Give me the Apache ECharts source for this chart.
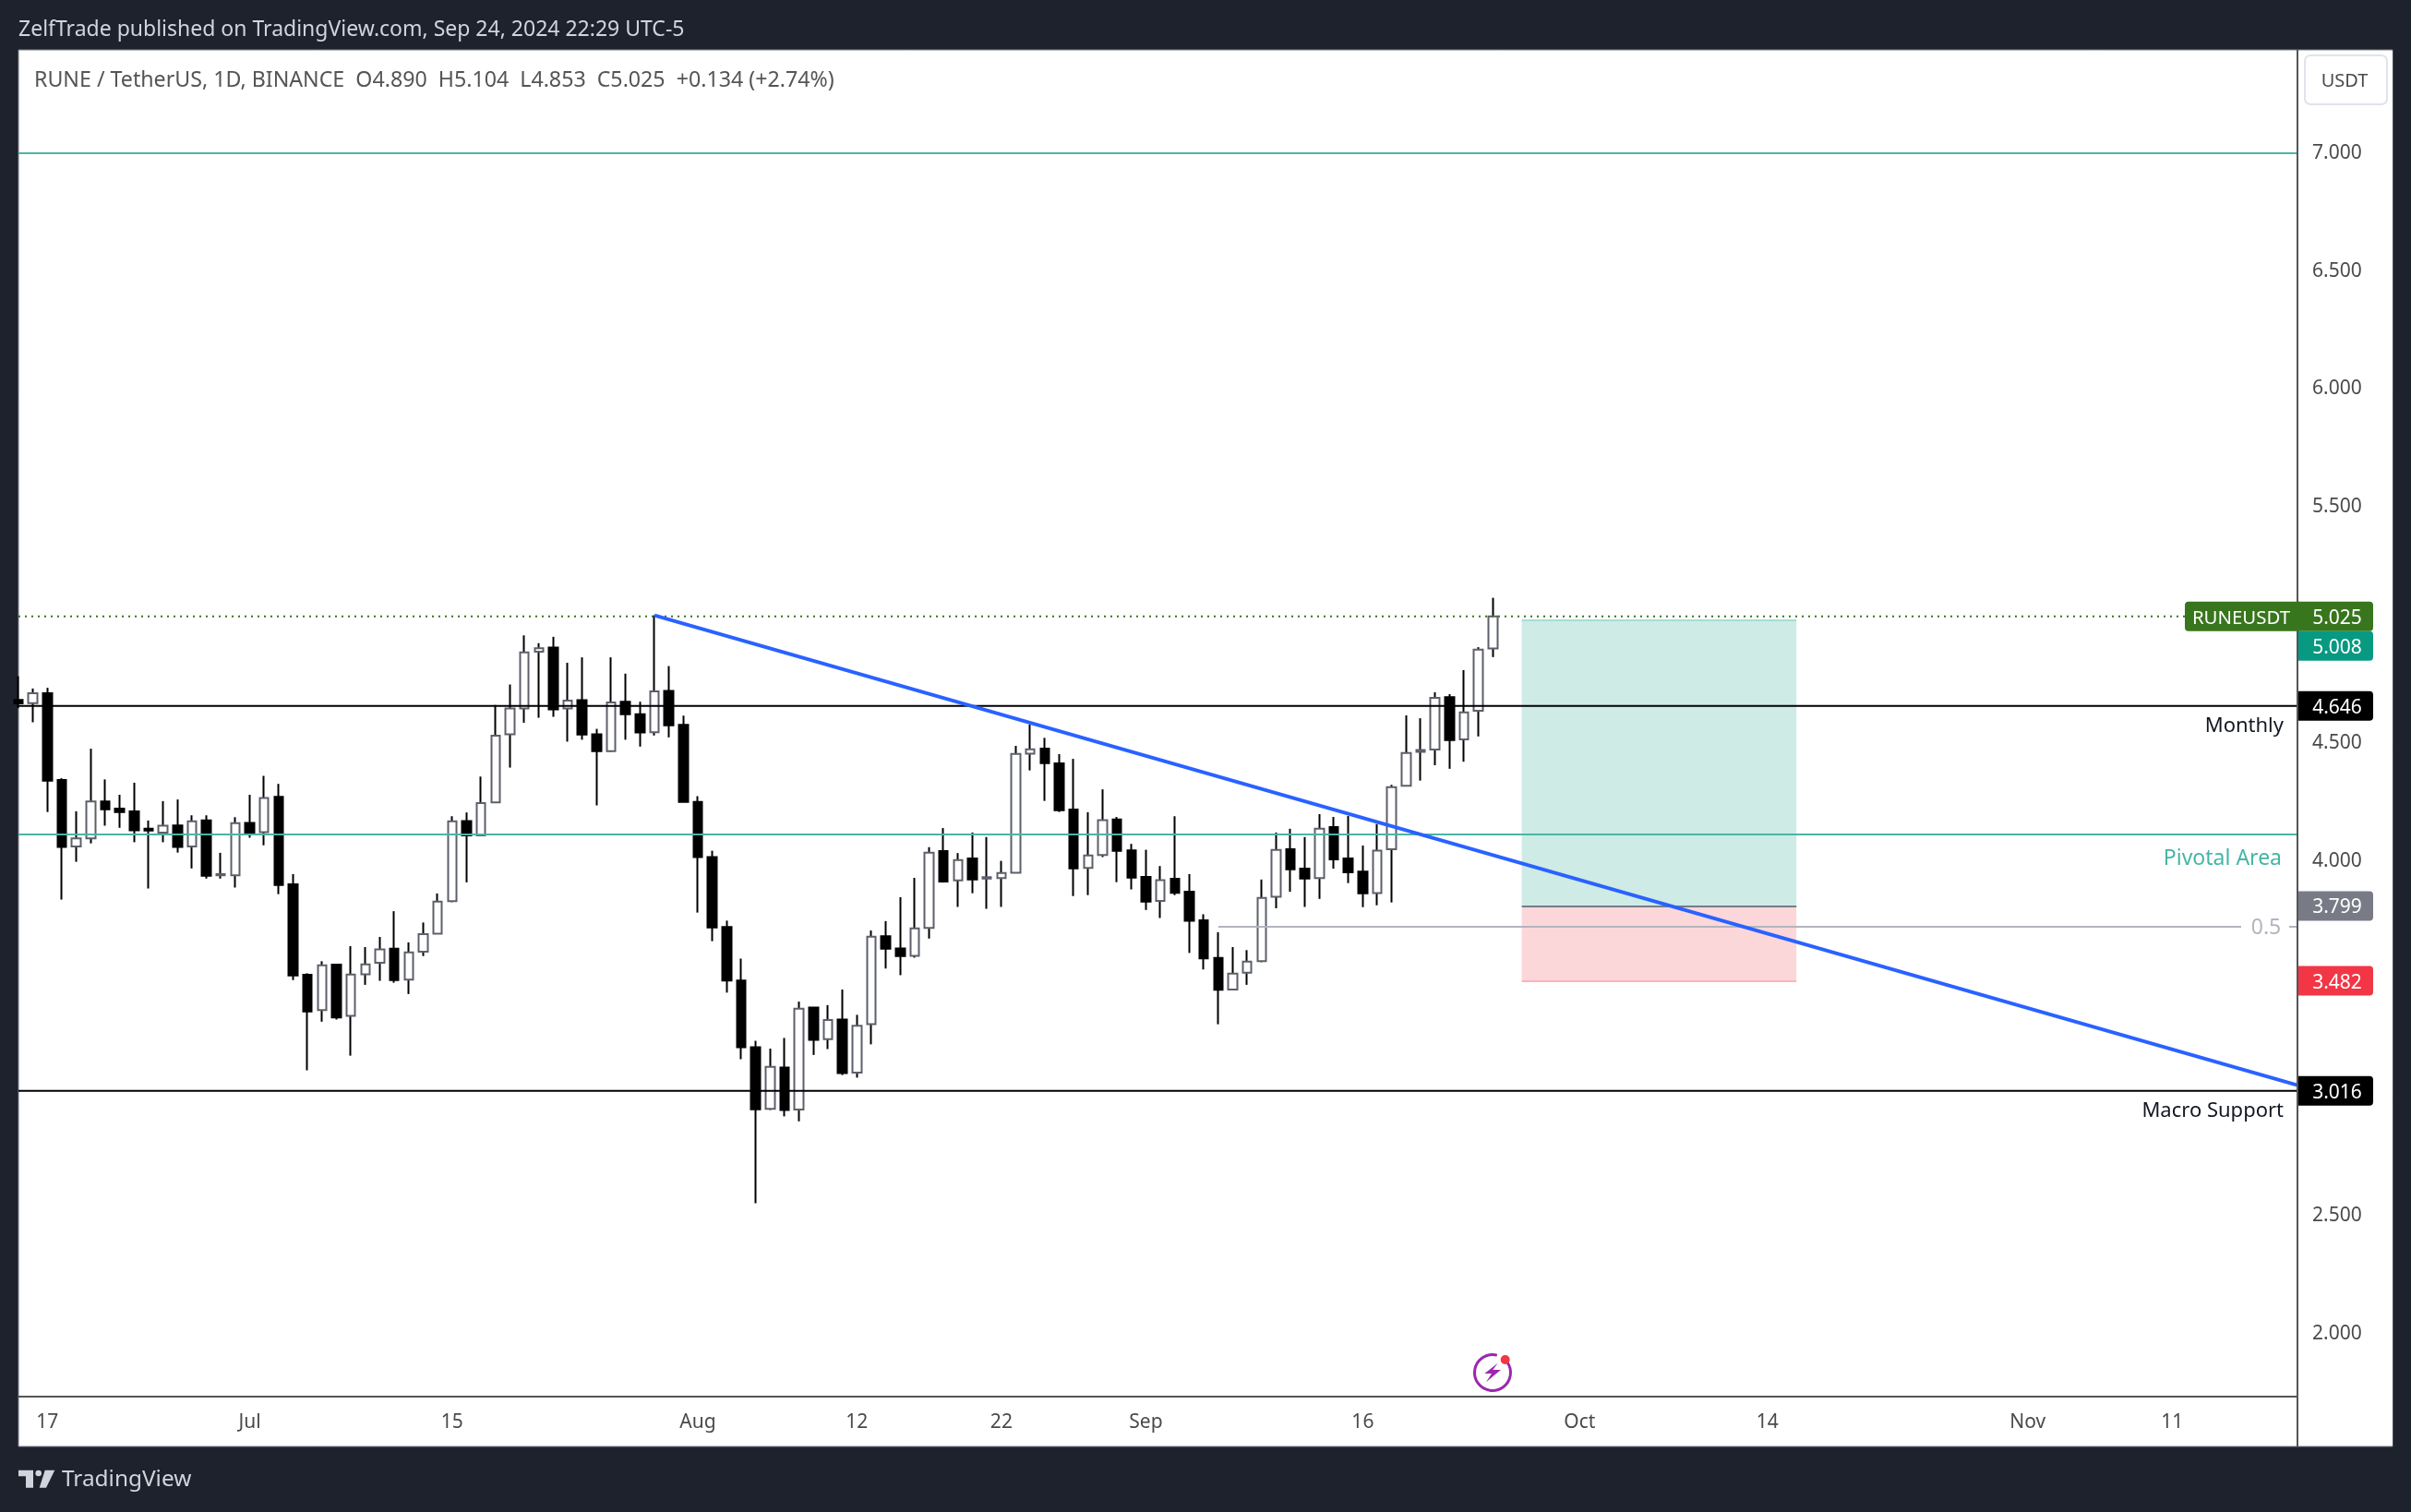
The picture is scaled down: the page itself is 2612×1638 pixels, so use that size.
<!DOCTYPE html>
<html>
<head>
<meta charset="utf-8">
<title>RUNEUSDT</title>
<script src="https://cdn.jsdelivr.net/npm/echarts@6/dist/echarts.min.js"></script>
<style>
  html, body { margin: 0; padding: 0; background: #1e222d; }
  #chart { width: 2612px; height: 1638px; }
</style>
</head>
<body>
<div id="chart"></div>
<script>
// daily candles, 15 Jun -> 25 Sep 2024
const opens = [4.672,4.658,4.700,4.332,4.051,4.085,4.242,4.211,4.200,4.126,4.110,4.140,4.051,4.161,3.929,3.929,
  4.151,4.112,4.261,3.891,3.508,3.358,3.551,3.334,3.510,3.558,3.618,3.487,3.605,3.682,3.819,4.159,4.098,4.238,4.526,4.635,4.876,4.893,4.635,4.671,4.526,4.455,4.664,4.611,4.535,4.710,4.566,
  4.240,4.006,3.710,3.483,3.201,2.940,3.115,2.937,3.369,3.235,3.318,3.093,3.298,3.671,3.619,3.588,3.706,4.031,3.907,4.000,3.915,3.917,3.940,4.444,4.465,4.403,4.207,3.960,4.015,4.165,4.034,
  3.922,3.820,3.914,3.859,3.738,3.579,3.445,3.516,3.565,3.838,4.039,3.957,3.917,4.133,4.000,3.944,3.854,4.039,4.308,4.452,4.461,4.683,4.504,4.626,4.890];
const highs = [4.772,4.720,4.723,4.340,4.200,4.465,4.335,4.270,4.321,4.161,4.243,4.250,4.183,4.183,4.024,4.175,
  4.270,4.350,4.316,3.934,3.514,3.565,3.551,3.629,3.625,3.668,3.777,3.645,3.729,3.852,4.179,4.195,4.347,4.650,4.737,4.945,4.912,4.939,4.829,4.852,4.549,4.852,4.783,4.664,5.030,4.815,4.605,
  4.264,4.033,3.737,3.576,3.228,3.195,3.240,3.394,3.369,3.379,3.445,3.338,3.695,3.735,3.836,3.918,4.048,4.129,4.023,4.110,4.091,3.990,4.477,4.567,4.511,4.442,4.422,4.196,4.293,4.176,4.062,
  4.037,3.968,4.179,3.934,3.764,3.688,3.625,3.612,3.911,4.110,4.126,4.091,4.188,4.176,4.180,4.055,4.146,4.312,4.606,4.594,4.704,4.696,4.798,4.895,5.104];
const lows = [4.637,4.577,4.197,3.826,3.986,4.064,4.139,4.130,4.069,3.873,4.069,4.025,3.958,3.915,3.915,3.877,
  4.088,4.056,3.849,3.485,3.103,3.309,3.318,3.165,3.465,3.482,3.474,3.426,3.587,3.682,3.815,3.899,4.098,4.238,4.385,4.575,4.596,4.600,4.495,4.503,4.225,4.452,4.503,4.474,4.521,4.513,4.240,
  3.771,3.650,3.432,3.150,2.540,2.935,2.908,2.887,3.168,3.193,3.083,3.072,3.213,3.534,3.506,3.580,3.661,3.898,3.795,3.853,3.787,3.795,3.940,4.373,4.244,4.197,3.841,3.845,4.006,3.900,3.869,
  3.782,3.748,3.845,3.600,3.530,3.298,3.445,3.465,3.561,3.789,3.859,3.795,3.829,3.957,3.896,3.794,3.802,3.814,4.308,4.330,4.395,4.380,4.410,4.517,4.853];
const closes = [4.657,4.700,4.330,4.049,4.085,4.242,4.208,4.197,4.119,4.118,4.139,4.049,4.158,3.927,3.934,4.150,
  4.109,4.256,3.888,3.505,3.352,3.548,3.327,3.509,3.552,3.615,3.485,3.602,3.680,3.817,4.158,4.098,4.235,4.520,4.635,4.873,4.891,4.632,4.669,4.525,4.455,4.661,4.611,4.534,4.708,4.564,4.240,
  4.006,3.708,3.483,3.201,2.938,3.118,2.935,3.364,3.232,3.316,3.091,3.292,3.669,3.618,3.587,3.704,4.025,3.902,3.993,3.911,3.921,3.939,4.443,4.462,4.404,4.204,3.958,4.013,4.162,4.032,3.919,
  3.817,3.908,3.855,3.736,3.577,3.444,3.513,3.563,3.833,4.036,3.954,3.915,4.126,3.996,3.942,3.853,4.033,4.302,4.447,4.460,4.680,4.502,4.619,4.885,5.025];

const firstDay = Date.UTC(2024, 5, 15);
const dayCount = 159; // chart runs on into empty future days
const categories = [];
for (let i = 0; i < dayCount; i++) {
  categories.push(new Date(firstDay + i * 86400000).toISOString().slice(0, 10));
}
const lastDay = categories[dayCount - 1];

const xTickDates = ["2024-06-17","2024-07-01","2024-07-15","2024-08-01","2024-08-12","2024-08-22","2024-09-01","2024-09-16","2024-10-01","2024-10-14","2024-11-01","2024-11-11"];
const xTickLabels = ["17","Jul","15","Aug","12","22","Sep","16","Oct","14","Nov","11"];
const yTicks = [2, 2.5, 4, 4.5, 5.5, 6, 6.5, 7];

// drawn levels
const topLevel = 6.987;
const monthly = 4.646;
const pivotal = 4.102;
const macroSupport = 3.016;
const lastClose = 5.025;
const fibLevel = 3.711;
const fibStart = "2024-09-06";
const trendStart = ["2024-07-29", 5.030];
const trendEnd = [lastDay, 3.034];

// long position box
const boxFrom = "2024-09-27";
const boxTo = "2024-10-16";
const targetPrice = 5.008;
const entryPrice = 3.799;
const stopPrice = 3.482;

const tagValues = [5.025, 5.008, 4.646, 3.799, 3.482, 3.016];
const tagColors = ["#38761d", "#089981", "#000000", "#787b86", "#f23645", "#000000"];

const FONT = '"Noto Sans", sans-serif';
const LEFT = 20, TOP = 54, BOTTOM = 1513, AXIS_X = 2489;
const BAND = 15.66;
const GRID_W = (dayCount - 1) * BAND;

function hline(value, color, width, type, from) {
  return {
    type: "line", silent: true, symbol: "none", animation: false, z: 5,
    data: [[from || categories[0], value], [lastDay, value]],
    lineStyle: { color: color, width: width, type: type || "solid" }
  };
}

const chart = echarts.init(document.getElementById("chart"));
chart.setOption({
  animation: false,
  backgroundColor: "#1e222d",
  grid: { left: LEFT, top: TOP, width: GRID_W, height: BOTTOM - TOP },
  xAxis: {
    type: "category",
    boundaryGap: false,
    data: categories,
    axisLine: { lineStyle: { color: "#555555", width: 2 } },
    axisTick: { show: false },
    axisLabel: {
      margin: 18,
      color: "#4a4a4a",
      fontFamily: FONT,
      fontSize: 21,
      hideOverlap: false,
      interval: function (index, value) { return xTickDates.indexOf(value) >= 0; },
      formatter: function (value) { return xTickLabels[xTickDates.indexOf(value)]; }
    },
    splitLine: { show: false }
  },
  yAxis: {
    type: "value",
    position: "right",
    offset: AXIS_X - (LEFT + GRID_W),
    min: 1.7211,
    max: 7.4247,
    z: 60,
    axisLine: { show: true, lineStyle: { color: "#555555", width: 2 } },
    axisTick: { show: false },
    splitLine: { show: false },
    axisLabel: {
      customValues: yTicks,
      margin: 16,
      formatter: function (v) { return "{t|" + v.toFixed(3) + "}"; },
      // noto sits a little high, nudge it down
      rich: { t: { color: "#4a4a4a", fontFamily: FONT, fontSize: 21, padding: [6, 0, 0, 0] } }
    }
  },
  series: [
    {
      // box behind everything, translucent like the original
      type: "line", silent: true, symbol: "none", z: 1, data: [],
      markArea: {
        silent: true,
        data: [
          [{ xAxis: boxFrom, yAxis: targetPrice, itemStyle: { color: "rgba(8,153,129,0.2)" } }, { xAxis: boxTo, yAxis: entryPrice }],
          [{ xAxis: boxFrom, yAxis: entryPrice, itemStyle: { color: "rgba(242,54,69,0.2)" } }, { xAxis: boxTo, yAxis: stopPrice }]
        ]
      },
      markLine: {
        silent: true, symbol: "none", label: { show: false },
        data: [
          [{ xAxis: boxFrom, yAxis: targetPrice, lineStyle: { color: "#a8ddd2", width: 2, type: "solid" } }, { xAxis: boxTo, yAxis: targetPrice }],
          [{ xAxis: boxFrom, yAxis: entryPrice, lineStyle: { color: "#787b86", width: 2, type: "solid" } }, { xAxis: boxTo, yAxis: entryPrice }],
          [{ xAxis: boxFrom, yAxis: stopPrice, lineStyle: { color: "#f9b4ba", width: 2, type: "solid" } }, { xAxis: boxTo, yAxis: stopPrice }]
        ]
      }
    },
    {
      // wicks are black, the body outline is not, so two layers
      type: "candlestick", silent: true, z: 2, barWidth: 1,
      itemStyle: { color: "#000", color0: "#000", borderColor: "#000", borderColor0: "#000", borderWidth: 2 },
      data: opens.map((o, i) => [o, closes[i], lows[i], highs[i]])
    },
    {
      type: "candlestick", silent: true, z: 3, barWidth: 10,
      itemStyle: { color: "#ffffff", color0: "#000000", borderColor: "#5d606b", borderColor0: "#000000", borderWidth: 2 },
      data: opens.map((o, i) => [o, closes[i], Math.min(o, closes[i]), Math.max(o, closes[i])])
    },
    hline(topLevel, "#4cb5a6", 2),
    hline(pivotal, "#4cb5a6", 2),
    hline(monthly, "#000000", 2),
    hline(macroSupport, "#000000", 2),
    hline(fibLevel, "#b2b5be", 2, "solid", fibStart),
    hline(lastClose, "#38761d", 2, [2, 5]),
    {
      type: "line", silent: true, symbol: "none", z: 6,
      data: [trendStart, trendEnd],
      lineStyle: { color: "#2962ff", width: 4 }
    }
  ]
});

// price tags and chart furniture, placed from the same y scale
function py(v) { return chart.convertToPixel({ yAxisIndex: 0 }, v); }

const graphics = [
  { type: "rect", z: -1, shape: { x: 20, y: 54, width: 2572, height: 1513 }, style: { fill: "#ffffff", stroke: "#787b86", lineWidth: 1 } },
  { type: "rect", z: 50, shape: { x: AXIS_X + 1, y: 55, width: 102, height: 1511 }, style: { fill: "#ffffff" } },
  { type: "line", z: 61, shape: { x1: AXIS_X, y1: BOTTOM, x2: AXIS_X, y2: 1567 }, style: { stroke: "#555555", lineWidth: 2 } },
  { type: "text", z: 70, style: { x: 20, y: 32, text: "ZelfTrade published on TradingView.com, Sep 24, 2024 22:29 UTC-5", fill: "#d1d4dc", font: "23px " + FONT, verticalAlign: "middle" } },
  { type: "text", z: 70, style: { x: 37, y: 87, text: "RUNE / TetherUS, 1D, BINANCE  O4.890  H5.104  L4.853  C5.025  +0.134 (+2.74%)", fill: "#555555", font: "23.2px " + FONT, verticalAlign: "middle" } },
  { type: "rect", z: 70, shape: { x: 2497, y: 60, width: 89, height: 53, r: 6 }, style: { fill: "#ffffff", stroke: "#e0e3eb", lineWidth: 2 } },
  { type: "text", z: 71, style: { x: 2540, y: 88, text: "USDT", fill: "#4a4a4a", font: "20px " + FONT, align: "center", verticalAlign: "middle" } },
  { type: "text", z: 40, style: { x: 2474, y: py(monthly) + 22, text: "Monthly", fill: "#131722", font: "22px " + FONT, align: "right", verticalAlign: "middle" } },
  { type: "text", z: 40, style: { x: 2472, y: py(pivotal) + 26, text: "Pivotal Area", fill: "#45b5a7", font: "23px " + FONT, align: "right", verticalAlign: "middle" } },
  { type: "text", z: 40, style: { x: 2474, y: py(macroSupport) + 22, text: "Macro Support", fill: "#131722", font: "22px " + FONT, align: "right", verticalAlign: "middle" } },
  { type: "rect", z: 40, shape: { x: 2428, y: py(fibLevel) - 8, width: 52, height: 16 }, style: { fill: "#ffffff" } },
  { type: "text", z: 41, style: { x: 2455, y: py(fibLevel) + 1, text: "0.5", fill: "#b2b5be", font: "23px " + FONT, align: "center", verticalAlign: "middle" } },
  // RUNEUSDT flag left of the axis
  { type: "rect", z: 70, shape: { x: 2367, y: py(lastClose) - 16, width: 124, height: 32, r: [4, 0, 0, 4] }, style: { fill: tagColors[0] } },
  { type: "text", z: 71, style: { x: 2428, y: py(lastClose) + 2, text: "RUNEUSDT", fill: "#ffffff", font: "20.4px " + FONT, align: "center", verticalAlign: "middle" } },
  // signals icon
  { type: "arc", z: 40, shape: { cx: 1617, cy: 1487, r: 19.5, startAngle: -0.2 * Math.PI, endAngle: -0.42 * Math.PI, clockwise: true }, style: { stroke: "#9c27b0", lineWidth: 3, fill: null } },
  { type: "polygon", z: 40, shape: { points: [[1622.7,1476.7],[1608.3,1488],[1616,1488],[1610,1497.3],[1626,1484],[1617.3,1484]] }, style: { fill: "#9c27b0" } },
  { type: "circle", z: 41, shape: { cx: 1630.7, cy: 1473, r: 5 }, style: { fill: "#f23645" } },
  // footer logo
  { type: "polygon", z: 70, shape: { points: [[20,1592.7],[36,1592.7],[36,1611.7],[28,1611.7],[28,1599.3],[20,1599.3]] }, style: { fill: "#d1d4dc" } },
  { type: "circle", z: 70, shape: { cx: 41.7, cy: 1596, r: 3.3 }, style: { fill: "#d1d4dc" } },
  { type: "polygon", z: 70, shape: { points: [[48.7,1592.7],[59.3,1592.7],[50,1611.7],[42.7,1611.7]] }, style: { fill: "#d1d4dc" } },
  { type: "text", z: 70, style: { x: 67, y: 1603, text: "TradingView", fill: "#d1d4dc", font: "24.4px " + FONT, verticalAlign: "middle" } }
];

tagValues.forEach(function (v, i) {
  // 5.008 would sit under the last price tag, so it is pushed below it
  const y = i === 1 ? py(lastClose) + 32 : py(v);
  graphics.push({ type: "rect", z: 70, shape: { x: AXIS_X + 1, y: y - 16, width: 81, height: 32, r: [0, 4, 4, 0] }, style: { fill: tagColors[i] } });
  graphics.push({ type: "text", z: 71, style: { x: 2532, y: y + 2, text: v.toFixed(3), fill: "#ffffff", font: "21px " + FONT, align: "center", verticalAlign: "middle" } });
});

chart.setOption({ graphic: graphics });
</script>
</body>
</html>
